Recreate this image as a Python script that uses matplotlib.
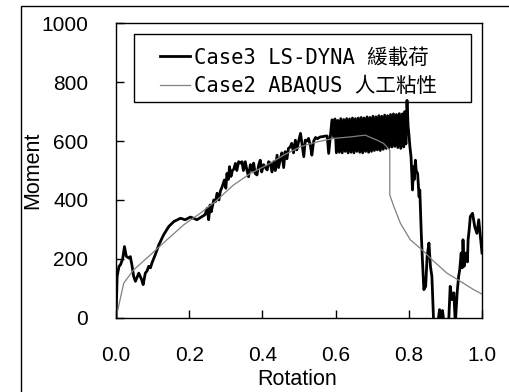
import matplotlib
matplotlib.use("Agg")
import matplotlib.pyplot as plt
from matplotlib.patches import Rectangle

# Case3: LS-DYNA, slow loading
case3_rot = [0.000, 0.003, 0.008, 0.012, 0.018, 0.023, 0.028, 0.035, 0.039, 0.044,
             0.048, 0.053, 0.058, 0.062, 0.066, 0.070, 0.074, 0.080, 0.085, 0.089,
             0.094, 0.098, 0.107, 0.117, 0.130, 0.144, 0.158, 0.176, 0.189, 0.203,
             0.212, 0.221, 0.235, 0.243, 0.249, 0.253, 0.257, 0.260, 0.267, 0.272,
             0.276, 0.281, 0.285, 0.290, 0.296, 0.300, 0.303, 0.307, 0.310, 0.314,
             0.318, 0.322, 0.326, 0.330, 0.335, 0.340, 0.344, 0.348, 0.353, 0.357,
             0.362, 0.367, 0.372, 0.376, 0.380, 0.385, 0.390, 0.394, 0.398, 0.403,
             0.408, 0.413, 0.417, 0.422, 0.426, 0.431, 0.435, 0.440, 0.444, 0.449,
             0.453, 0.458, 0.462, 0.467, 0.471, 0.476, 0.480, 0.485, 0.490, 0.494,
             0.499, 0.504, 0.508, 0.513, 0.517, 0.522, 0.526, 0.531, 0.535, 0.540,
             0.545, 0.550, 0.558, 0.565, 0.572, 0.577, 0.581, 0.586,
             0.590, 0.594, 0.598, 0.602, 0.606, 0.610, 0.614, 0.618, 0.622, 0.626,
             0.630, 0.634, 0.638, 0.642, 0.646, 0.650, 0.654, 0.658, 0.662, 0.666,
             0.670, 0.674, 0.678, 0.682, 0.686, 0.690, 0.694, 0.698, 0.702, 0.706,
             0.710, 0.714, 0.718, 0.722, 0.726, 0.730, 0.734, 0.738, 0.742, 0.746,
             0.750, 0.754, 0.758, 0.762, 0.766, 0.770, 0.774, 0.778, 0.782, 0.786,
             0.789, 0.792, 0.795, 0.798,
             0.800, 0.803, 0.806, 0.810, 0.813, 0.815, 0.818, 0.820, 0.824, 0.828,
             0.830, 0.834, 0.837, 0.841, 0.846, 0.850, 0.855, 0.859, 0.863, 0.868,
             0.875, 0.880, 0.884, 0.888, 0.892, 0.896, 0.900, 0.909, 0.913, 0.918,
             0.923, 0.927, 0.932, 0.936, 0.939, 0.943, 0.946, 0.948, 0.951, 0.956,
             0.960, 0.962, 0.965, 0.968, 0.974, 0.980, 0.986, 0.991, 1.000]
case3_mom = [0, 141, 175, 180, 200, 242, 209, 203, 208, 175,
             141, 124, 140, 152, 141, 130, 113, 152, 160, 175,
             170, 186, 214, 248, 282, 310, 327, 338, 333, 342,
             338, 333, 344, 350, 372, 333, 383, 360, 400, 395,
             423, 400, 430, 445, 468, 440, 490, 470, 513, 480,
             500, 505, 524, 500, 530, 525, 530, 500, 530, 505,
             479, 520, 500, 525, 490, 485, 520, 535, 495, 520,
             510, 502, 530, 524, 495, 530, 500, 552, 510, 540,
             560, 510, 564, 540, 575, 580, 592, 560, 603, 570,
             600, 626, 590, 547, 603, 600, 609, 585, 552, 600,
             612, 608, 614, 615, 617, 617, 558, 620,
             672, 615, 675, 560, 670, 562, 676, 560, 673, 565,
             676, 560, 675, 562, 678, 560, 676, 565, 678, 562,
             680, 560, 678, 565, 682, 562, 680, 565, 684, 568,
             682, 570, 686, 568, 684, 572, 688, 575, 686, 578,
             690, 580, 692, 582, 690, 578, 693, 575, 692, 580,
             700, 590, 738, 650,
             626, 580, 547, 434, 513, 470, 535, 500, 490, 411,
             434, 287, 200, 96, 107, 209, 254, 175, 141, -20,
             -30, -10, 28, -20, 25, -15, -20, -10, 107, 62,
             85, -20, 85, 140, 163, 220, 170, 265, 175, 220,
             190, 265, 300, 344, 355, 310, 287, 333, 220]

# Case2: ABAQUS, artificial viscosity
case2_rot = [0.000, 0.021, 0.048, 0.094, 0.139, 0.185, 0.230, 0.276, 0.321, 0.367,
             0.413, 0.458, 0.504, 0.549, 0.595, 0.640, 0.681, 0.713, 0.731, 0.748,
             0.748, 0.759, 0.777, 0.804, 0.836, 0.868, 0.904, 0.941, 0.977, 1.000]
case2_mom = [0, 118, 163, 214, 265, 316, 355, 400, 451, 490,
             519, 552, 581, 597, 609, 614, 620, 603, 592, 569,
             417, 378, 321, 265, 231, 192, 152, 124, 96, 81]

labels = ["Case3 LS-DYNA 緩載荷", "Case2 ABAQUS 人工粘性"]

plt.rcParams["font.family"] = ["Liberation Sans", "Noto Sans CJK TC", "DejaVu Sans"]

fig = plt.figure(figsize=(5.09, 3.92), dpi=100)
ax = fig.add_axes([0.228, 0.189, 0.719, 0.752])

# frame around the whole figure (open to the right and bottom)
fig.patches.append(Rectangle((21 / 509, -0.1), 1.2, 1.1 - 6 / 392,
                             transform=fig.transFigure, fill=False,
                             edgecolor="black", linewidth=1.0))

ax.plot(case3_rot, case3_mom, color="black", linewidth=2.0, label=labels[0])
ax.plot(case2_rot, case2_mom, color="#808080", linewidth=0.9, label=labels[1])

ax.set_xlim(0, 1.0)
ax.set_ylim(0, 1000)
ax.set_xticks([0.0, 0.2, 0.4, 0.6, 0.8, 1.0])
ax.set_xticklabels(["0.0", "0.2", "0.4", "0.6", "0.8", "1.0"])
ax.set_yticks([0, 200, 400, 600, 800, 1000])
ax.tick_params(direction="in", length=6, width=1, labelsize=15)
ax.tick_params(axis="x", pad=20)
ax.tick_params(axis="y", pad=20)
for s in ax.spines.values():
    s.set_linewidth(1.0)

ax.set_xlabel("Rotation", fontsize=15.5)
ax.xaxis.set_label_coords(0.496, -0.172)
ax.set_ylabel("Moment", fontsize=15.5)
ax.yaxis.set_label_coords(-0.2, 0.5)

# legend text without its own frame, boxed separately
leg = ax.legend(loc="upper left", bbox_to_anchor=(0.092, 0.952),
                frameon=False, borderpad=0, handlelength=1.45,
                handletextpad=0.2, labelspacing=0.4,
                prop={"family": ["DejaVu Sans Mono", "Noto Sans CJK TC", "DejaVu Sans"],
                      "size": 14.8})
ax.add_patch(Rectangle((0.049, 0.732), 0.921, 0.231, transform=ax.transAxes,
                       fill=False, edgecolor="black", linewidth=1.0,
                       zorder=5, clip_on=False))

fig.savefig("out.png", dpi=100)
